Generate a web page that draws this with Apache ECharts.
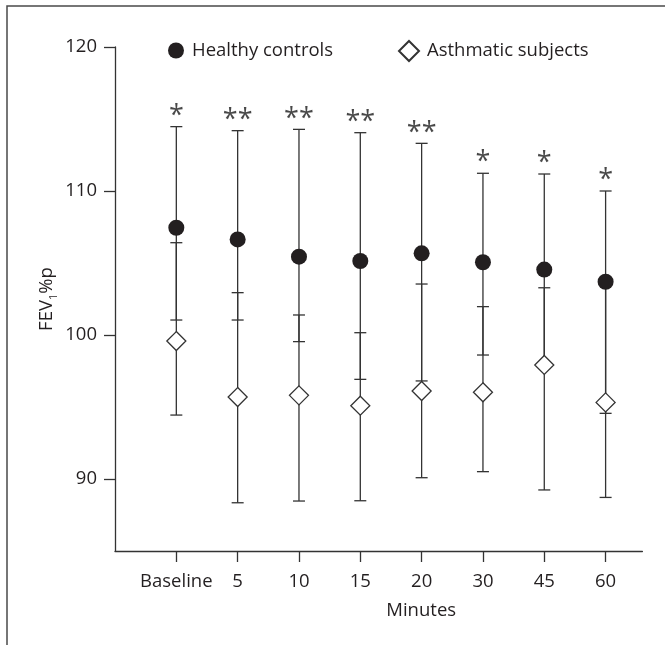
<!DOCTYPE html>
<html>
<head>
<meta charset="utf-8">
<script src="https://cdn.jsdelivr.net/npm/echarts@6/dist/echarts.min.js"></script>
<style>
html,body{margin:0;padding:0;background:#fff;}
#chart{width:665px;height:645px;}
</style>
</head>
<body>
<div id="chart"></div>
<script>
// ---- data ----
var categories = ['Baseline', '5', '10', '15', '20', '30', '45', '60'];
var healthyMean  = [107.45, 106.64, 105.44, 105.14, 105.67, 105.05, 104.54, 103.70];
var healthyUpper = [114.47, 114.19, 114.28, 114.05, 113.31, 111.23, 111.18, 110.00];
var healthyLower = [101.04, 101.04, 99.54, 96.92, 96.81, 98.61, 97.92, 94.56];
var asthmaMean   = [99.58, 95.69, 95.81, 95.09, 96.11, 96.02, 97.92, 95.32];
var asthmaUpper  = [106.41, 102.94, 101.39, 100.16, 103.54, 101.97, 103.28, 103.70];
var asthmaLower  = [94.44, 88.35, 88.47, 88.49, 90.09, 90.51, 89.24, 88.72];
var significance = ['*', '**', '**', '**', '**', '*', '*', '*'];
var yTicks = [90, 100, 110, 120];
var seriesNames = ['Healthy controls', 'Asthmatic subjects'];

var FONT = 'Open Sans';
var TXT = '#231f20';
var LINE = '#333333';
var xPos = categories.map(function (c, i) { return i + 1; });

function errorBars(lower, upper) {
  return {
    type: 'custom',
    silent: true,
    z: 1,
    renderItem: function (params, api) {
      var x = api.value(0), lo = api.value(1), hi = api.value(2);
      var pHi = api.coord([x, hi]);
      var pLo = api.coord([x, lo]);
      var hw = 6;
      var st = { stroke: LINE, lineWidth: 1.3 };
      return {
        type: 'group',
        children: [
          { type: 'line', shape: { x1: pHi[0], y1: pHi[1], x2: pLo[0], y2: pLo[1] }, style: st },
          { type: 'line', shape: { x1: pHi[0] - hw, y1: pHi[1], x2: pHi[0] + hw, y2: pHi[1] }, style: st },
          { type: 'line', shape: { x1: pLo[0] - hw, y1: pLo[1], x2: pLo[0] + hw, y2: pLo[1] }, style: st }
        ]
      };
    },
    encode: { x: 0, y: [1, 2] },
    data: xPos.map(function (x, i) { return [x, lower[i], upper[i]]; })
  };
}

var chart = echarts.init(document.getElementById('chart'), null, { renderer: 'canvas' });
chart.setOption({
  animation: false,
  backgroundColor: '#fff',
  textStyle: { fontFamily: FONT, color: TXT },
  graphic: [{
    type: 'rect', silent: true, z: 100,
    shape: { x: 7, y: 6, width: 1000, height: 1000 },
    style: { fill: 'none', stroke: '#4a4a4a', lineWidth: 1.5 }
  }],
  grid: { left: 115, right: 22.6, top: 47, bottom: 94 },
  legend: [{
    data: [seriesNames[0]],
    left: 168, top: 41, padding: 0,
    itemWidth: 16, itemHeight: 16,
    textStyle: { fontFamily: FONT, fontSize: 18.5, color: TXT, padding: [0, 0, 0, 3] }
  }, {
    data: [seriesNames[1]],
    left: 398, top: 40, padding: 0,
    itemWidth: 20, itemHeight: 20,
    textStyle: { fontFamily: FONT, fontSize: 18.5, color: TXT, padding: [0, 0, 0, 3] }
  }],
  xAxis: {
    type: 'value', min: 0, max: 8.6,
    name: 'Minutes', nameLocation: 'middle', nameGap: 50,
    nameMoveOverlap: false,
    nameTextStyle: { fontFamily: FONT, fontSize: 18.5, color: TXT, padding: [0, 0, 0, 85] },
    splitLine: { show: false },
    axisLine: { show: true, lineStyle: { color: LINE, width: 1.3 } },
    axisTick: { show: true, length: 11, customValues: xPos, lineStyle: { color: LINE, width: 1.3 } },
    axisLabel: {
      customValues: xPos, margin: 21,
      fontFamily: FONT, fontSize: 18.5, color: TXT,
      formatter: function (v) { return categories[Math.round(v) - 1] || ''; }
    }
  },
  yAxis: {
    type: 'value', min: 85, max: 120,
    name: '{n|FEV}{sub|1}{n|%p}', nameLocation: 'middle', nameGap: 56,
    nameMoveOverlap: false,
    nameTextStyle: {
      fontFamily: FONT, color: TXT,
      rich: {
        n: { fontFamily: FONT, fontSize: 18.5, color: TXT, lineHeight: 24 },
        sub: { fontFamily: FONT, fontSize: 11, color: TXT, lineHeight: 12, verticalAlign: 'bottom' }
      }
    },
    splitLine: { show: false },
    axisLine: { show: true, lineStyle: { color: LINE, width: 1.3 } },
    axisTick: { show: true, length: 11, customValues: yTicks, lineStyle: { color: LINE, width: 1.3 } },
    axisLabel: { customValues: yTicks, margin: 18, fontFamily: FONT, fontSize: 18.5, color: TXT }
  },
  series: [
    errorBars(healthyLower, healthyUpper),
    errorBars(asthmaLower, asthmaUpper),
    {
      name: seriesNames[0], type: 'scatter', z: 3,
      symbol: 'circle', symbolSize: 16,
      itemStyle: { color: TXT, opacity: 1 },
      data: xPos.map(function (x, i) { return [x, healthyMean[i]]; })
    },
    {
      name: seriesNames[1], type: 'scatter', z: 3,
      symbol: 'diamond', symbolSize: [19, 19],
      itemStyle: { color: '#fff', borderColor: LINE, borderWidth: 1.3, opacity: 1 },
      data: xPos.map(function (x, i) { return [x, asthmaMean[i]]; })
    },
    {
      type: 'scatter', z: 4, silent: true,
      symbolSize: 0,
      label: {
        show: true, position: 'top', distance: -3,
        fontFamily: FONT, fontSize: 27, color: '#1a1a1a',
        formatter: function (p) { return significance[p.dataIndex]; }
      },
      data: xPos.map(function (x, i) { return [x, healthyUpper[i]]; })
    }
  ]
});
</script>
</body>
</html>
